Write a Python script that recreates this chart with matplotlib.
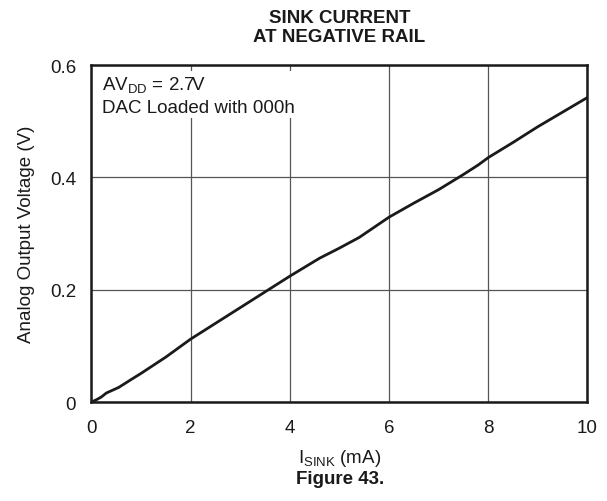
import matplotlib
matplotlib.use("Agg")
import matplotlib.pyplot as plt

plt.rcParams['font.family'] = ['Liberation Sans', 'DejaVu Sans']
plt.rcParams['mathtext.fontset'] = 'custom'
plt.rcParams['mathtext.rm'] = 'Liberation Sans'
plt.rcParams['mathtext.it'] = 'Liberation Sans:italic'
plt.rcParams['mathtext.bf'] = 'Liberation Sans:bold'

# Data
i_sink = [0, 0.1, 0.2, 0.3, 0.55, 0.8, 1.0, 1.5, 2, 2.5, 3, 3.5, 4, 4.6, 5, 5.4,
          5.7, 6, 6.5, 7, 7.5, 7.8, 8, 8.5, 9, 9.5, 10]
v_out = [0, 0.004, 0.009, 0.016, 0.026, 0.04, 0.051, 0.08, 0.112, 0.14, 0.168,
         0.196, 0.224, 0.256, 0.274, 0.293, 0.311, 0.329, 0.354, 0.378, 0.405,
         0.422, 0.435, 0.462, 0.49, 0.516, 0.542]
x_ticks = [0, 2, 4, 6, 8, 10]
x_tick_labels = ['0', '2', '4', '6', '8', '10']
y_ticks = [0, 0.2, 0.4, 0.6]
y_tick_labels = ['0', '0.2', '0.4', '0.6']

fig = plt.figure(figsize=(6.07, 5.02), dpi=100)
ax = fig.add_axes([0.1507, 0.1972, 0.8168, 0.6713])

ax.plot(i_sink, v_out, color='#1a1a1a', lw=2.0, zorder=3, solid_capstyle='round')
ax.set_xlim(0, 10)
ax.set_ylim(0, 0.6)
ax.set_xticks(x_ticks)
ax.set_xticklabels(x_tick_labels)
ax.set_yticks(y_ticks)
ax.set_yticklabels(y_tick_labels)
ax.tick_params(length=0, labelsize=13.5, colors='#1a1a1a')
ax.tick_params(axis='x', pad=12)
ax.tick_params(axis='y', pad=11)
ax.set_axisbelow(True)
ax.grid(True, color='#555555', lw=0.9)
for s in ax.spines.values():
    s.set_linewidth(1.8)
    s.set_color('#1a1a1a')

ax.set_xlabel(r'I$_{\mathrm{SINK}}$ (mA)', fontsize=13.5, labelpad=8, color='#1a1a1a')
ax.set_ylabel('Analog Output Voltage (V)', fontsize=13.5, labelpad=11, color='#1a1a1a')
ax.set_title('SINK CURRENT\nAT NEGATIVE RAIL', fontsize=13.5, fontweight='bold',
             pad=17, linespacing=1.2, color='#1a1a1a')

ax.text(0.022, 0.972, 'AV$_{\\mathrm{DD}}$ = 2.7V\nDAC Loaded with 000h',
        transform=ax.transAxes, ha='left', va='top', fontsize=13.5,
        linespacing=1.35, color='#1a1a1a', zorder=2,
        bbox=dict(facecolor='white', edgecolor='none', pad=1.5))

fig.text(0.5597, 0.045, 'Figure 43.', ha='center', va='center', fontsize=13.5,
         fontweight='bold', color='#1a1a1a')

fig.savefig('out.png', dpi=100, facecolor='white')
